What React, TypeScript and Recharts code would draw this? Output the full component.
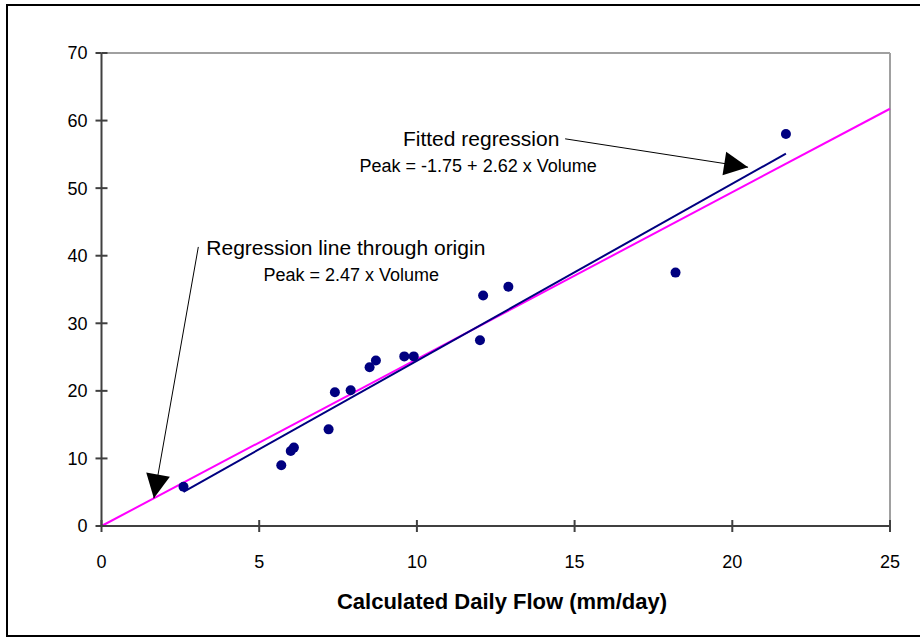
import { ComposedChart, Scatter, XAxis, YAxis, ReferenceLine, Label } from 'recharts';

const flow = [2.6, 5.7, 6.0, 6.1, 7.2, 7.4, 7.9, 8.5, 8.7, 9.6, 9.9, 12.0, 12.1, 12.9, 18.2, 21.7];
const peak = [5.8, 9.0, 11.1, 11.6, 14.3, 19.8, 20.1, 23.5, 24.5, 25.1, 25.1, 27.5, 34.1, 35.4, 37.5, 58.0];

const xTicks = [0, 5, 10, 15, 20, 25];
const yTicks = [0, 10, 20, 30, 40, 50, 60, 70];

// regression equations
const fitted = { intercept: -1.75, slope: 2.62 };
const origin = { slope: 2.47 };

// annotation arrows (start, tip) in data units
const fittedArrow = [{ x: 14.7, y: 57.3 }, { x: 20.5, y: 53.1 }];
const originArrow = [{ x: 3.07, y: 41.3 }, { x: 1.66, y: 4.1 }];

const points = flow.map((x, i) => ({ x, y: peak[i] }));
const xMin = Math.min(...flow);
const xMax = Math.max(...flow);

const FONT = '"Liberation Sans", Arial, sans-serif';
const TICK = 6;
const X_MARGIN = 23;
const Y_MARGIN = 8;

function arrowHead(x1: number, y1: number, x2: number, y2: number) {
  const dx = x2 - x1;
  const dy = y2 - y1;
  const len = Math.sqrt(dx * dx + dy * dy);
  const ux = dx / len;
  const uy = dy / len;
  const bx = x2 - ux * 24;
  const by = y2 - uy * 24;
  const px = -uy * 12;
  const py = ux * 12;
  return `${x2},${y2} ${bx + px},${by + py} ${bx - px},${by - py}`;
}

const FittedArrow = (props: any) => {
  const { x1, y1, x2, y2 } = props;
  return (
    <g>
      <line x1={x1} y1={y1} x2={x2} y2={y2} stroke="#000" strokeWidth={1} />
      <polygon points={arrowHead(x1, y1, x2, y2)} fill="#000" />
      <text x={x1 - 84} y={y1 + 7} textAnchor="middle" fontSize={21} fontFamily={FONT} fill="#000">
        Fitted regression
      </text>
      <text x={x1 - 87} y={y1 + 33} textAnchor="middle" fontSize={18} fontFamily={FONT} fill="#000">
        Peak = -1.75 + 2.62 x Volume
      </text>
    </g>
  );
};

const OriginArrow = (props: any) => {
  const { x1, y1, x2, y2 } = props;
  return (
    <g>
      <line x1={x1} y1={y1} x2={x2} y2={y2} stroke="#000" strokeWidth={1} />
      <polygon points={arrowHead(x1, y1, x2, y2)} fill="#000" />
      <text x={x1 + 8} y={y1 + 8} textAnchor="start" fontSize={21} fontFamily={FONT} fill="#000">
        Regression line through origin
      </text>
      <text x={x1 + 153} y={y1 + 34} textAnchor="middle" fontSize={18} fontFamily={FONT} fill="#000">
        Peak = 2.47 x Volume
      </text>
    </g>
  );
};

// tick marks cross the axis: draw the inner half next to the label
const XTick = (props: any) => {
  const { x, y, payload } = props;
  const axisY = y - X_MARGIN - TICK;
  return (
    <g>
      <line x1={x} y1={axisY} x2={x} y2={axisY - TICK} stroke="#404040" strokeWidth={2} />
      <text x={x} y={y} dy="0.71em" textAnchor="middle" fontSize={18} fontFamily={FONT} fill="#000">
        {payload.value}
      </text>
    </g>
  );
};

const YTick = (props: any) => {
  const { x, y, payload } = props;
  const axisX = x + Y_MARGIN + TICK;
  return (
    <g>
      <line x1={axisX} y1={y} x2={axisX + TICK} y2={y} stroke="#404040" strokeWidth={2} />
      <text x={x} y={y} dy="0.355em" textAnchor="end" fontSize={18} fontFamily={FONT} fill="#000">
        {payload.value}
      </text>
    </g>
  );
};

export default function App() {
  return (
    <div style={{ position: 'absolute', left: 0, top: 0, width: 920, height: 637, overflow: 'hidden', background: '#fff' }}>
      <div
        style={{
          position: 'absolute',
          left: 6,
          top: 4,
          width: 940,
          height: 633,
          border: '2px solid #000',
          boxSizing: 'border-box',
        }}
      />
      <div style={{ position: 'absolute', left: 0, top: 0 }}>
        <ComposedChart width={920} height={637} margin={{ top: 53, right: 30, bottom: 26, left: 41.5 }}>
          <XAxis
            type="number"
            dataKey="x"
            domain={[0, 25]}
            ticks={xTicks}
            interval={0}
            height={85}
            stroke="#404040"
            strokeWidth={2}
            tickSize={TICK}
            tickMargin={X_MARGIN}
            tick={XTick}
          >
            <Label
              content={() => (
                <text x={502} y={609} textAnchor="middle" fontSize={22} fontWeight="bold" fontFamily={FONT} fill="#000">
                  Calculated Daily Flow (mm/day)
                </text>
              )}
            />
          </XAxis>
          <YAxis
            type="number"
            dataKey="y"
            domain={[0, 70]}
            ticks={yTicks}
            interval={0}
            width={60}
            stroke="#404040"
            strokeWidth={2}
            tickSize={TICK}
            tickMargin={Y_MARGIN}
            tick={YTick}
          />
          <ReferenceLine y={70} stroke="#a0a0a0" strokeWidth={2} />
          <ReferenceLine x={25} stroke="#a0a0a0" strokeWidth={2} />
          <ReferenceLine
            segment={[
              { x: 0, y: 0 },
              { x: 25, y: origin.slope * 25 },
            ]}
            stroke="#ff00ff"
            strokeWidth={2}
          />
          <ReferenceLine
            segment={[
              { x: xMin, y: fitted.intercept + fitted.slope * xMin },
              { x: xMax, y: fitted.intercept + fitted.slope * xMax },
            ]}
            stroke="#000080"
            strokeWidth={2}
          />
          <ReferenceLine segment={fittedArrow} shape={FittedArrow} />
          <ReferenceLine segment={originArrow} shape={OriginArrow} />
          <Scatter
            data={points}
            isAnimationActive={false}
            shape={(p: any) => <circle cx={p.cx} cy={p.cy} r={5} fill="#000080" />}
          />
        </ComposedChart>
      </div>
    </div>
  );
}
